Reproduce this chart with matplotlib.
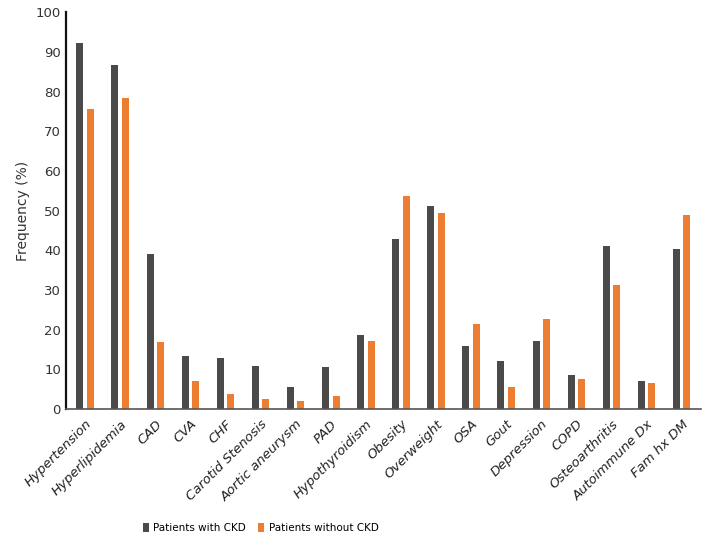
import matplotlib
matplotlib.use("Agg")
import matplotlib.pyplot as plt
import numpy as np

categories = ["Hypertension", "Hyperlipidemia", "CAD", "CVA", "CHF", "Carotid Stenosis",
              "Aortic aneurysm", "PAD", "Hypothyroidism", "Obesity", "Overweight", "OSA",
              "Gout", "Depression", "COPD", "Osteoarthritis", "Autoimmune Dx", "Fam hx DM"]
with_ckd = [92.3, 86.7, 39.1, 13.3, 12.8, 11.0, 5.5, 10.7, 18.6, 42.9, 51.1, 15.9,
            12.2, 17.1, 8.6, 41.1, 7.2, 40.3]
without_ckd = [75.7, 78.3, 16.8, 7.2, 3.8, 2.6, 2.0, 3.4, 17.1, 53.7, 49.4, 21.5,
               5.5, 22.7, 7.6, 31.3, 6.6, 49.0]
yticks = list(range(0, 101, 10))

fig = plt.figure(figsize=(7.08, 5.5), dpi=100)
ax = fig.add_axes([0.093, 0.256, 0.897, 0.722])
x = np.arange(len(categories))
w = 0.2
ax.bar(x - 0.15, with_ckd, w, color="#4a4a4a", label="Patients with CKD")
ax.bar(x + 0.15, without_ckd, w, color="#ed7d31", label="Patients without CKD")
ax.set_xlim(-0.55, len(categories) - 0.45)
ax.set_ylim(0, 100)
ax.set_yticks(yticks)
ax.tick_params(axis="y", length=0, labelsize=9.5, colors="#333333")
ax.tick_params(axis="x", length=0, pad=6)
ax.set_xticks(x)
ax.set_xticklabels(categories, rotation=45, ha="right", rotation_mode="anchor",
                   fontsize=9.5, style="italic", color="#222222")
ax.set_ylabel("Frequency (%)", fontsize=10, color="#333333")
for s in ["top", "right"]:
    ax.spines[s].set_visible(False)
ax.spines["left"].set_color("#111111")
ax.spines["left"].set_linewidth(1.6)
ax.spines["bottom"].set_color("#555555")
ax.spines["bottom"].set_linewidth(1.2)
fig.legend(loc="center", bbox_to_anchor=(0.368, 0.04), ncol=2, frameon=False,
           fontsize=7.5, handlelength=0.6, handleheight=0.9, columnspacing=1.2,
           handletextpad=0.4)
fig.savefig("out.png", dpi=100)
